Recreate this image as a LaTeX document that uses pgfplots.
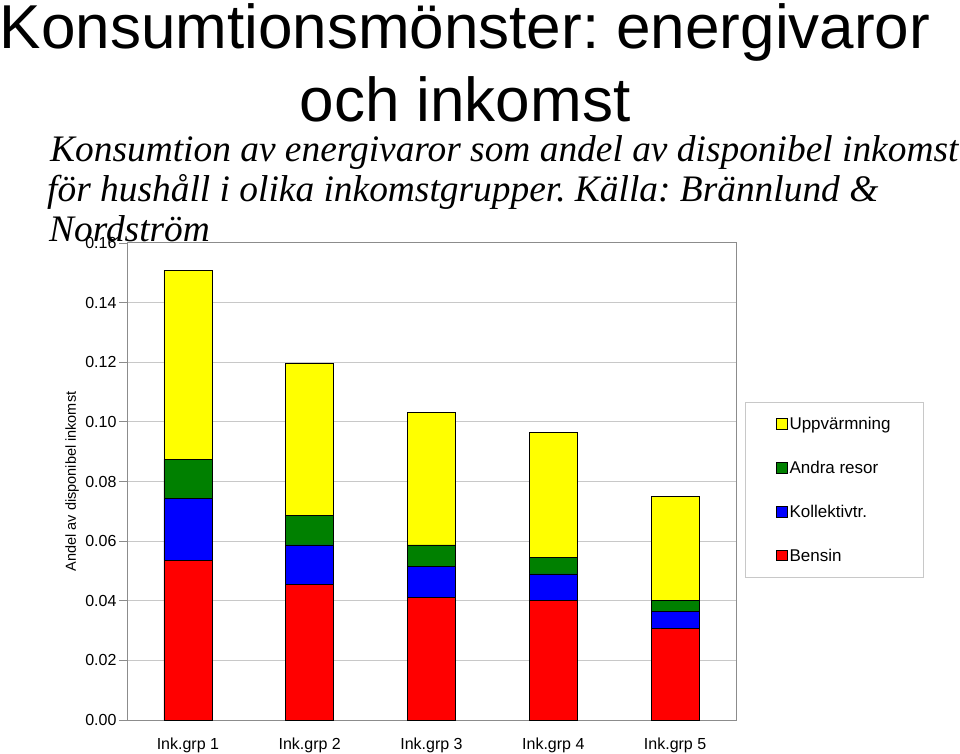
\documentclass[border=0pt]{standalone}
\usepackage{fontspec}
\setmainfont{Liberation Sans}
\newfontfamily\serifit{Liberation Serif}
\usepackage{pgfplots}
\pgfplotsset{compat=1.18}
\definecolor{cyel}{HTML}{FFFF00}
\definecolor{cgrn}{HTML}{008000}
\definecolor{cblu}{HTML}{0000FF}
\definecolor{cred}{HTML}{FF0000}
\definecolor{gridgray}{HTML}{C8C8C8}
\definecolor{axgray}{HTML}{8C8C8C}
\frenchspacing
\begin{document}
\begin{tikzpicture}
\path[use as bounding box] (0pt,0pt) rectangle (960pt,754pt);
\begin{axis}[
  at={(127pt,34pt)}, anchor=south west,
  scale only axis, width=609pt, height=477pt,
  xmin=-0.5, xmax=4.5, ymin=0, ymax=0.16,
  ybar stacked, bar width=48pt,
  xtick={0,1,2,3,4},
  xticklabels={Ink.grp 1,Ink.grp 2,Ink.grp 3,Ink.grp 4,Ink.grp 5},
  x tick style={draw=none},
  extra x ticks={0.5,1.5,2.5,3.5},
  extra x tick labels={},
  extra x tick style={grid=none, tick style={draw=axgray, line width=0.8pt}},
  ytick={0,0.02,...,0.161},
  y tick style={draw=axgray, line width=0.8pt},
  tick align=outside, major tick length=8pt,
  xtick pos=bottom, ytick pos=left,
  ymajorgrids, major grid style={draw=gridgray, line width=1pt},
  axis line style={draw=axgray, line width=1pt},
  /pgf/number format/assume math mode=true,
  yticklabel style={/pgf/number format/fixed, /pgf/number format/fixed zerofill, /pgf/number format/precision=2, xshift=1pt},
  ticklabel style={font=\fontsize{16}{18}\selectfont},
  xticklabel style={yshift=-6pt},
  ylabel={Andel av disponibel inkomst},
  ylabel style={at={(axis description cs:-0.0903,0.5)}, anchor=center, font=\fontsize{14.5}{16}\selectfont},
  reverse legend,
  legend style={at={(1.0148,0.6667)}, anchor=north west, draw=gridgray, line width=0.8pt,
    font=\fontsize{17}{19}\selectfont, inner xsep=31pt, inner ysep=13pt, row sep=26pt, cells={anchor=west}},
  legend image code/.code={\draw[#1, line width=0.6pt] (0pt,-5pt) rectangle (10.5pt,5.5pt);},
]
\addplot[fill=cred, draw=black, line width=0.7pt] coordinates {(0,0.0535) (1,0.0455) (2,0.0410) (3,0.0402) (4,0.0306)};
\addplot[fill=cblu, draw=black, line width=0.7pt] coordinates {(0,0.0207) (1,0.0132) (2,0.0105) (3,0.0088) (4,0.0058)};
\addplot[fill=cgrn, draw=black, line width=0.7pt] coordinates {(0,0.0132) (1,0.0100) (2,0.0072) (3,0.0056) (4,0.0037)};
\addplot[fill=cyel, draw=black, line width=0.7pt] coordinates {(0,0.0635) (1,0.0508) (2,0.0445) (3,0.0420) (4,0.0348)};
\legend{Bensin,Kollektivtr.,Andra resor,Uppvärmning}
\end{axis}
\node[anchor=base, inner sep=0pt, font=\fontsize{62}{62}\selectfont] at (465pt,705pt) {Konsumtionsmönster: energivaror};
\node[anchor=base, inner sep=0pt, font=\fontsize{62}{62}\selectfont] at (465pt,632pt) {och inkomst};
\node[anchor=base west, inner sep=0pt, font=\serifit\itshape\fontsize{37.4}{38}\selectfont] at (50pt,592pt) {Konsumtion av energivaror som andel av disponibel inkomst};
\node[anchor=base west, inner sep=0pt, font=\serifit\itshape\fontsize{37.4}{38}\selectfont] at (47pt,552pt) {för hushåll i olika inkomstgrupper. Källa: Brännlund \&};
\node[anchor=base west, inner sep=0pt, font=\serifit\itshape\fontsize{37.4}{38}\selectfont] at (49pt,512pt) {Nordström};
\end{tikzpicture}
\end{document}
